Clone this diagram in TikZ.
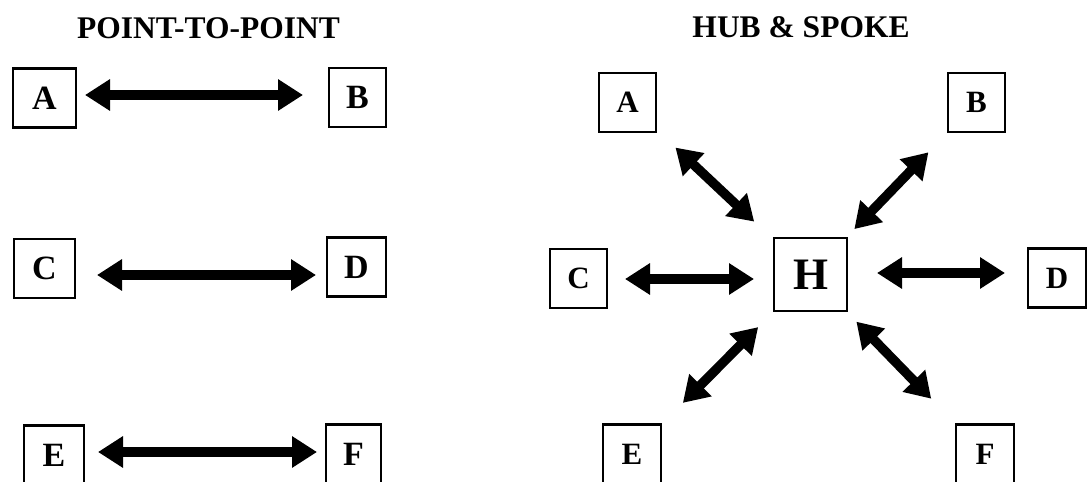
\documentclass[tikz,border=0pt]{standalone}
\usepackage{fontspec}
\setmainfont{Liberation Serif}
\usetikzlibrary{arrows.meta}
\begin{document}
\begin{tikzpicture}[x=1pt,y=-1pt,
  box/.style={draw, line width=2.4pt, inner sep=0pt, minimum width=#1, minimum height=59pt},
  box/.default=60pt,
  lfont/.style={font=\bfseries\fontsize{34}{34}\selectfont},
  rfont/.style={font=\bfseries\fontsize{31}{31}\selectfont},
  title/.style={font=\bfseries\fontsize{31.5}{31.5}\selectfont, inner sep=0pt},
  dbl/.style={line width=9.5pt, {Triangle[length=25pt,width=30pt]}-{Triangle[length=25pt,width=30pt]}}
]
\useasboundingbox (0,0) rectangle (1088,482);
% titles
\node[title] (t1) at (208.5,28) {POINT-TO-POINT};
\node[title] (t2) at (801,27) {HUB \& SPOKE};
% left boxes
\node[box=63pt, lfont] (lA) at (44.5,98) {A};
\node[box=57pt, lfont] (lB) at (357.5,97.5) {B};
\node[box=61pt, lfont] (lC) at (44.5,268.5) {C};
\node[box=59pt, lfont] (lD) at (356.5,267) {D};
\node[box=60pt, lfont] (lE) at (54,455) {E};
\node[box=55pt, lfont] (lF) at (353.5,454) {F};
% right boxes
\node[box=57pt, rfont] (rA) at (627.5,102.5) {A};
\node[box=57pt, rfont] (rB) at (976.5,102.5) {B};
\node[box=57pt, rfont] (rC) at (578.5,278.5) {C};
\node[box=58pt, rfont] (rD) at (1057,278) {D};
\node[box=58pt, rfont] (rE) at (632,454) {E};
\node[box=58pt, rfont] (rF) at (985,454) {F};
\node[draw, line width=2.4pt, inner sep=0pt, minimum width=73pt, minimum height=73pt,
      font=\bfseries\fontsize{45}{45}\selectfont] (H) at (810.5,274.5) {H};
% point-to-point arrows
\draw[dbl, shorten <=40.5pt, shorten >=54.5pt] ([yshift=3pt]lA.center) -- ([yshift=2.5pt]lB.center);
\draw[dbl, shorten <=52.5pt, shorten >=40.5pt] ([yshift=-6.5pt]lC.center) -- ([yshift=-8pt]lD.center);
\draw[dbl, shorten <=44pt, shorten >=36.5pt] ([yshift=3pt]lE.center) -- ([yshift=2pt]lF.center);
% hub arrows
\draw[dbl, shorten <=65.8pt, shorten >=77.2pt] (rA.center) -- (H.center);
\draw[dbl, shorten <=69.2pt, shorten >=63.1pt] (rB.center) -- (H.center);
\draw[dbl, shorten <=46.5pt, shorten >=56.5pt] ([yshift=-0.5pt]rC.center) -- ([yshift=-4.5pt]H.center);
\draw[dbl, shorten <=66.5pt, shorten >=52pt] ([yshift=1.5pt]H.center) -- ([yshift=5pt]rD.center);
\draw[dbl, shorten <=72.1pt, shorten >=74.2pt] (rE.center) -- (H.center);
\draw[dbl, shorten <=77.1pt, shorten >=65.8pt] (rF.center) -- (H.center);
\end{tikzpicture}
\end{document}
